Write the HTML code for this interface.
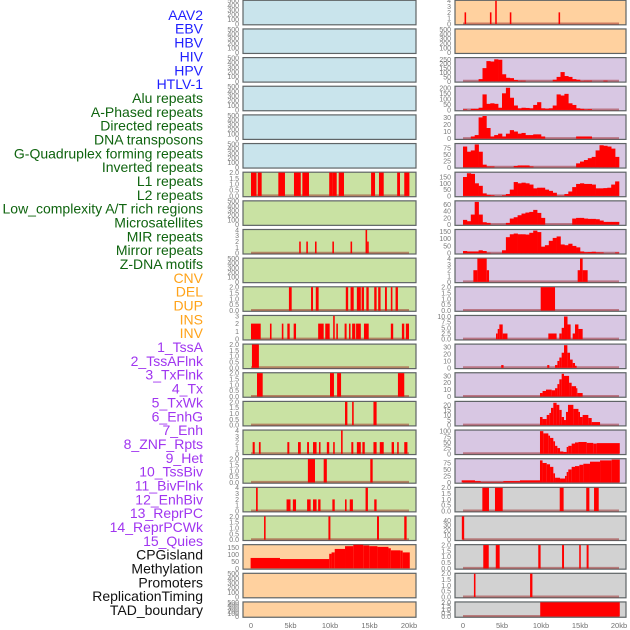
<!DOCTYPE html>
<html><head><meta charset="utf-8"><style>
html,body{margin:0;padding:0;background:#fff;}
svg{display:block;font-family:"Liberation Sans",sans-serif;}
</style></head><body>
<svg id="chart" width="630" height="630" viewBox="0 0 630 630" xmlns="http://www.w3.org/2000/svg">
<g id="labels"></g>
<g id="panels"></g>
<g id="xaxes"></g>
</svg>
<script>
const labelNames = ["AAV2","EBV","HBV","HIV","HPV","HTLV-1","Alu repeats","A-Phased repeats","Directed repeats","DNA transposons","G-Quadruplex forming repeats","Inverted repeats","L1 repeats","L2 repeats","Low_complexity A/T rich regions","Microsatellites","MIR repeats","Mirror repeats","Z-DNA motifs","CNV","DEL","DUP","INS","INV","1_TssA","2_TssAFlnk","3_TxFlnk","4_Tx","5_TxWk","6_EnhG","7_Enh","8_ZNF_Rpts","9_Het","10_TssBiv","11_BivFlnk","12_EnhBiv","13_ReprPC","14_ReprPCWk","15_Quies","CPGisland","Methylation","Promoters","ReplicationTiming","TAD_boundary"];
const labelGroups = [6,13,5,15,5];
const groupColors = ["#1f1fff","#0f640f","#ffa31a","#a035f0","#111111"];

const ticks500 = ["0","100","200","300","400","500"];
const ticks2 = ["0.0","0.5","1.0","1.5","2.0"];
const ticks4 = ["0","1","2","3","4"];
const ticks3 = ["0","1","2","3"];
const xTickLabels = ["0","5kb","10kb","15kb","20kb"];
const xTickValues = [0,5,10,15,20];

const L6_segs = [[0,0.7,2],[0.85,1.35,2],[3.46,4.3,2],[5.44,6.3,2],[6.5,7.34,2],[9.9,10.3,2],[10.3,10.85,2],[11.1,11.77,2],[15.2,15.7,2],[16.2,16.8,2],[18.5,18.86,2],[19.4,20.05,2]];
const L8_segs = [[6.1,6.3,2],[7.0,7.2,2],[8.1,8.3,2],[10.3,10.5,2],[12.6,12.8,2],[14.5,14.7,4],[14.7,14.9,2]];
const L10_segs = [[4.8,5.15,2],[7.6,7.85,2],[8.2,8.56,2],[12.0,12.3,2],[12.6,13.0,2],[13.4,13.9,2],[14.0,14.3,2],[14.6,14.9,2],[15.6,15.9,2],[16.1,16.4,2],[16.96,17.2,2],[17.7,17.9,2],[18.3,18.6,2]];
const L11_segs = [[0,1.23,2],[2.4,2.6,2],[3.9,4.1,2],[4.6,4.9,2],[5.4,5.7,2],[8.5,9.2,2],[9.4,9.96,2],[10.4,10.6,3],[10.8,11.0,2],[11.85,12.1,2],[12.4,12.6,2],[12.8,13.2,2],[13.3,13.9,2],[14.3,14.9,2],[17.7,18.0,2],[19.1,19.4,2],[19.6,20.0,2]];
const L12_segs = [[0.12,1.0,2]];
const L13_segs = [[0.76,1.48,2],[10.0,10.5,2],[10.9,11.4,2],[18.6,19.4,2]];
const L14_segs = [[11.9,12.2,2],[12.8,13.0,2],[15.5,15.9,2]];
const L15_segs = [[0.21,0.47,2],[1.0,1.22,2],[4.6,4.85,2],[5.95,6.3,2],[7.1,7.34,2],[7.85,8.3,2],[8.6,8.8,2],[9.6,9.9,2],[10.4,10.6,2],[11.4,11.6,4],[12.7,12.95,2],[13.4,13.9,2],[14.1,14.4,2],[15.5,15.9,2],[16.3,16.8,2],[17.8,18.1,2],[18.5,18.7,2],[19.4,19.8,2]];
const L16_segs = [[7.2,8.1,2],[9.2,9.6,2],[15.1,15.4,2]];
const L17_segs = [[0.64,0.85,4],[4.5,5.0,2],[5.3,5.7,2],[7.1,7.55,2],[7.85,8.3,2],[8.5,8.8,2],[10.3,10.6,2],[11.9,12.1,2],[12.5,12.9,2],[14.5,14.8,4],[15.6,15.9,2]];
const L18_segs = [[1.65,1.85,2],[9.8,10.05,2],[15.95,16.2,2],[19.4,19.7,2]];
const L19_segs = [[-0.05,3.67,75],[3.67,9.9,67],[9.9,10.2,105],[10.2,10.6,115],[10.6,11.9,140],[11.9,12.95,160],[12.95,14.2,170],[14.2,14.97,165],[14.97,16.0,160],[16.0,17.4,155],[17.4,17.7,145],[17.7,18.9,130],[18.9,19.2,128],[19.2,20.1,115]];
const ticksCpg = ["0","50","100","150"];

const R0_segs = [[0.2,0.4,2],[3.45,3.65,2],[4.13,4.33,4],[6.0,6.2,2],[12.25,12.45,2]];
const R2_bins = [0,0,0,0,25,150,230,225,250,245,80,40,36,15,7,7,0,0,0,0,0,0,0,18,50,105,60,50,25,18,5,7,7,0,0,0,7,0,0,0];
const R3_bins = [5,0,10,10,20,140,55,60,55,20,150,200,110,40,15,20,18,15,45,70,15,12,15,40,140,130,145,60,45,15,10,5,7,0,0,0,0,0,0,0];
const R4_bins = [0,0,3,5,30,32,15,3,5,7,3,7,12,10,7,8,5,5,6,6,3,0,0,0,0,0,0,0,0,3,3,3,3,0,0,0,0,0,0,0];
const R5_bins = [80,60,65,88,60,10,3,3,0,0,0,0,0,5,7,7,7,3,0,0,0,0,0,0,0,0,0,0,0,15,22,28,35,40,65,85,83,80,72,40];
const R6_bins = [150,180,175,100,80,20,8,5,0,0,5,15,50,110,100,105,100,90,60,65,65,50,40,25,2,2,15,35,70,95,100,95,95,90,60,60,62,65,90,115];
const R7_bins = [14,10,30,68,30,7,5,0,0,0,0,5,18,22,28,33,36,38,44,35,20,0,0,0,0,0,0,0,18,20,20,18,17,17,16,12,8,8,8,8];
const R8_bins = [15,12,12,12,20,15,3,0,0,0,20,110,130,135,130,130,128,140,155,145,45,55,85,105,115,60,55,65,50,40,12,7,8,10,6,5,0,0,0,5];
const R9_segs = [[1.33,1.84,2],[1.84,3.04,4],[3.04,3.34,2],[14.7,15.0,2],[15.0,15.34,4],[15.34,15.98,2]];
const R10_segs = [[9.96,11.8,2]];
const R11_segs = [[4.23,4.45,2.5],[4.45,4.66,4.5],[4.66,5.09,6.5],[5.09,5.7,2.5],[10.94,12.0,2.5],[12.35,12.65,2.5],[12.65,12.95,5],[12.95,13.4,10],[13.4,13.8,6.5],[14.06,14.36,2.5],[14.36,14.8,6.5],[14.8,15.34,4.5]];
const R12_segs = [[4.9,5.2,4],[10.8,11.07,4],[11.8,12.1,4],[12.1,12.35,10],[12.35,12.65,15],[12.65,12.95,22],[12.95,13.38,33],[13.38,13.72,22],[13.72,14.06,12],[14.06,14.36,7],[14.36,14.57,3]];
const R13_segs = [[9.87,10.2,5],[10.2,10.64,8],[10.64,11.37,10],[11.37,11.8,9],[11.8,12.1,12],[12.1,12.35,18],[12.35,12.65,25],[12.65,12.95,33],[12.95,13.6,30],[13.6,13.93,20],[13.93,14.5,15],[14.5,14.66,12],[14.66,15.34,5]];
const R14_segs = [[9.87,10.2,8],[10.2,10.73,6],[10.73,11.07,10],[11.07,11.28,12],[11.28,11.58,17],[11.58,12.0,22],[12.0,12.35,20],[12.35,12.65,15],[12.65,12.95,8],[12.95,13.2,5],[13.2,13.46,13],[13.46,14.15,20],[14.15,14.8,16],[14.8,15.0,13],[15.0,15.34,8],[15.34,16.07,10],[16.07,16.5,7],[16.5,17.57,3]];
const R15_segs = [[9.87,10.3,100],[10.3,10.94,90],[10.94,11.16,80],[11.16,11.58,70],[11.58,11.8,55],[11.8,12.1,35],[12.1,12.44,25],[12.44,12.87,10],[12.87,13.29,8],[13.29,13.5,30],[13.5,13.93,35],[13.93,14.36,45],[14.36,14.8,50],[14.8,15.86,52],[15.86,16.7,48],[16.7,17.14,45],[17.14,20.1,47]];
const R16_segs = [[-0.17,1.54,8],[1.54,2.27,5],[2.27,5.17,2],[5.17,7.3,5],[7.3,9.87,8],[9.87,10.2,85],[10.2,10.73,75],[10.73,11.16,70],[11.16,11.58,60],[11.58,11.8,35],[11.8,12.44,18],[12.44,13.08,15],[13.08,13.29,25],[13.29,13.5,40],[13.5,13.93,50],[13.93,14.36,60],[14.36,14.92,63],[14.92,15.43,68],[15.43,16.28,72],[16.28,17.57,80],[17.57,19.06,85],[19.06,20.1,88]];
const R17_segs = [[2.48,3.33,2],[4.1,5.09,2],[12.4,12.9,2],[15.8,16.2,2],[16.8,17.4,2]];
const R18_segs = [[-0.15,0.15,48]];
const R19_segs = [[2.6,3.3,2],[4.2,4.7,2],[9.65,9.95,2],[12.7,12.95,2],[14.9,15.1,2],[15.85,16.1,2]];
const R20_segs = [[1.4,1.6,2],[8.6,8.9,2]];
const R21_segs = [[9.9,20.1,2]];

const BLUE="#c9e4ec", GREEN="#c9e2a3", ORANGE="#ffd19f", PURPLE="#d8c7e3", GREY="#d2d2d2";

const leftPanels = [
 {bg:BLUE,ticks:ticks500,ymax:500,segs:[]},
 {bg:BLUE,ticks:ticks500,ymax:500,segs:[]},
 {bg:BLUE,ticks:ticks500,ymax:500,segs:[]},
 {bg:BLUE,ticks:ticks500,ymax:500,segs:[]},
 {bg:BLUE,ticks:ticks500,ymax:500,segs:[]},
 {bg:BLUE,ticks:ticks500,ymax:500,segs:[]},
 {bg:GREEN,ticks:ticks2,ymax:2,segs:L6_segs,base:true},
 {bg:GREEN,ticks:ticks500,ymax:500,segs:[]},
 {bg:GREEN,ticks:ticks4,ymax:4,segs:L8_segs,base:true},
 {bg:GREEN,ticks:ticks500,ymax:500,segs:[]},
 {bg:GREEN,ticks:ticks2,ymax:2,segs:L10_segs,base:true},
 {bg:GREEN,ticks:ticks3,ymax:3,segs:L11_segs,base:true},
 {bg:GREEN,ticks:ticks2,ymax:2,segs:L12_segs,base:true},
 {bg:GREEN,ticks:ticks2,ymax:2,segs:L13_segs,base:true},
 {bg:GREEN,ticks:ticks2,ymax:2,segs:L14_segs,base:true},
 {bg:GREEN,ticks:ticks4,ymax:4,segs:L15_segs,base:true},
 {bg:GREEN,ticks:ticks2,ymax:2,segs:L16_segs,base:true},
 {bg:GREEN,ticks:ticks4,ymax:4,segs:L17_segs,base:true},
 {bg:GREEN,ticks:ticks2,ymax:2,segs:L18_segs,base:true},
 {bg:ORANGE,ticks:ticksCpg,ymax:168,segs:L19_segs},
 {bg:ORANGE,ticks:ticks500,ymax:500,segs:[]},
 {bg:ORANGE,ticks:ticks500,ymax:500,segs:[]}
];
const rightPanels = [
 {bg:ORANGE,ticks:ticks4,ymax:4,segs:R0_segs,base:true},
 {bg:ORANGE,ticks:ticks500,ymax:500,segs:[]},
 {bg:PURPLE,ticks:["0","50","100","150","200","250"],ymax:265,bins:R2_bins,base:true},
 {bg:PURPLE,ticks:["0","50","100","150","200"],ymax:210,bins:R3_bins,base:true},
 {bg:PURPLE,ticks:["0","10","20","30"],ymax:33,bins:R4_bins,base:true},
 {bg:PURPLE,ticks:["0","25","50","75"],ymax:90,bins:R5_bins,base:true},
 {bg:PURPLE,ticks:["0","50","100","150"],ymax:185,bins:R6_bins,base:true},
 {bg:PURPLE,ticks:["0","20","40","60"],ymax:70,bins:R7_bins,base:true},
 {bg:PURPLE,ticks:["0","50","100","150"],ymax:160,bins:R8_bins,base:true},
 {bg:PURPLE,ticks:ticks4,ymax:4,segs:R9_segs,base:true},
 {bg:PURPLE,ticks:ticks2,ymax:2,segs:R10_segs,base:true},
 {bg:PURPLE,ticks:["0.0","2.5","5.0","7.5","10.0"],ymax:10.3,segs:R11_segs,base:true},
 {bg:PURPLE,ticks:["0","10","20","30"],ymax:34,segs:R12_segs,base:true},
 {bg:PURPLE,ticks:["0","10","20","30"],ymax:34,segs:R13_segs,base:true},
 {bg:PURPLE,ticks:["0","5","10","15","20"],ymax:23,segs:R14_segs,base:true},
 {bg:PURPLE,ticks:["0","25","50","75","100"],ymax:103,segs:R15_segs,base:true},
 {bg:PURPLE,ticks:["0","25","50","75"],ymax:90,segs:R16_segs,base:true},
 {bg:GREY,ticks:ticks2,ymax:2,segs:R17_segs,base:true},
 {bg:GREY,ticks:["0","10","20","30","40"],ymax:48,segs:R18_segs,base:true},
 {bg:GREY,ticks:ticks2,ymax:2,segs:R19_segs,base:true},
 {bg:GREY,ticks:ticks2,ymax:2,segs:R20_segs,base:true},
 {bg:GREY,ticks:ticks2,ymax:2,segs:R21_segs,base:true}
];

const NS="http://www.w3.org/2000/svg";
function mk(tag, attrs, parent){const e=document.createElementNS(NS,tag);for(const k in attrs)e.setAttribute(k,attrs[k]);parent.appendChild(e);return e;}

const lg=document.getElementById('labels');
let gi=0, gc=0;
labelNames.forEach((name,i)=>{
  while(gc>=labelGroups[gi]){gi++;gc=0;}
  gc++;
  const t=mk('text',{x:203,y:(15+i*13.84+4.9).toFixed(1),'text-anchor':'end','font-size':'14',fill:groupColors[gi]},lg);
  
  
  t.textContent=name;
});

const cols=[
 {panels:leftPanels, px:243, pw:173, x0:251, kbw:7.9, tickX:239},
 {panels:rightPanels, px:455, pw:171, x0:463, kbw:7.8, tickX:451}
];
const pg=document.getElementById('panels');
cols.forEach((col,ci)=>{
  const xs=kb=>col.x0+kb*col.kbw;
  col.panels.forEach((p,i)=>{
    const top=0.3+28.65*i;
    const h = i===21 ? 15.3 : 24.5;
    const bot=top+h-0.8;
    const ys=v=>bot-(v/p.ymax)*(h-1.2);
    const g=mk('g',{},pg);
    
    
    const bg=mk('rect',{x:col.px,y:top,width:col.pw,height:h,fill:p.bg,stroke:'#5f6466','stroke-width':1.2},g);
    
    
    if(p.base){
      const bl=mk('line',{x1:xs(0),x2:xs(20),y1:bot-0.5,y2:bot-0.5,stroke:'rgba(150,20,20,0.45)','stroke-width':2},g);
      
      
    }
    if(p.segs){p.segs.forEach(s=>{
      const r=mk('rect',{x:xs(s[0]),y:ys(s[2]),width:Math.max(1.2,xs(s[1])-xs(s[0])),height:bot-ys(s[2]),fill:'#ff0000'},g);
      
      
    });}
    if(p.bins){p.bins.forEach((v,b)=>{
      if(v<=0)return;
      const r=mk('rect',{x:xs(b*0.5),y:ys(v),width:xs(0.5)-xs(0)+0.3,height:bot-ys(v),fill:'#ff0000'},g);
      
      
    });}
    p.ticks.forEach(lab=>{
      const v=parseFloat(lab);
      const yy=ys(v)+2.5;
      const t=mk('text',{x:col.tickX,y:yy.toFixed(1),'text-anchor':'end','font-size':'7',fill:'#7a7a7a'},g);
      
      
      t.textContent=lab;
    });
  });
  const xg=document.getElementById('xaxes');
  xTickValues.forEach((v,k)=>{
    const t=mk('text',{x:xs(v),y:628,'text-anchor':'middle','font-size':'7.5',fill:'#707070'},xg);
    
    
    t.textContent=xTickLabels[k];
  });
});
</script>
</body></html>
